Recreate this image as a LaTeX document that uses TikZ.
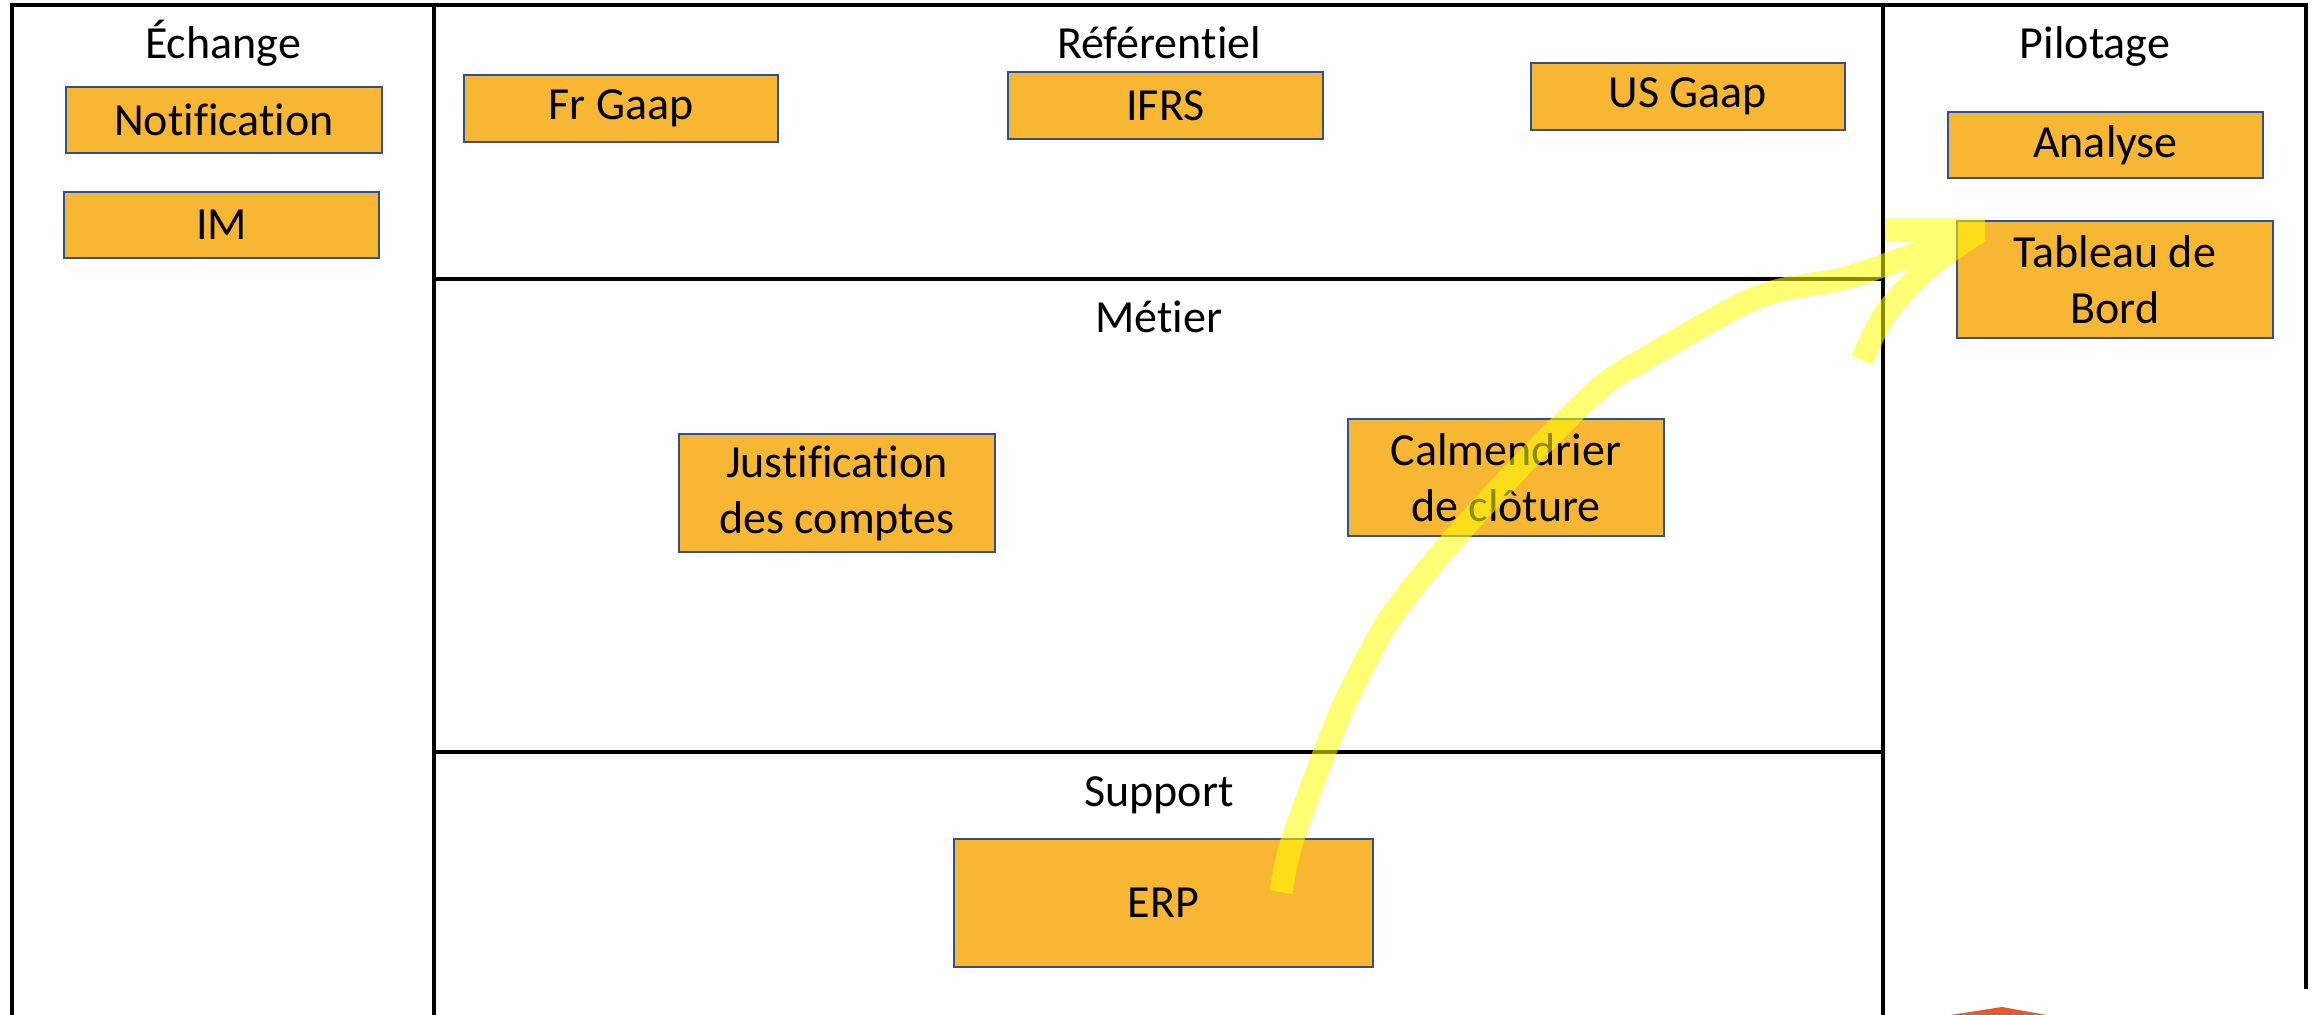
\documentclass[tikz,border=0pt]{standalone}
\usepackage{fontspec}
\setmainfont[Ligatures={NoCommon}]{Carlito}
\definecolor{boxfill}{RGB}{248,183,51}
\definecolor{boxline}{RGB}{47,82,143}
\definecolor{hl}{RGB}{255,255,0}
\definecolor{logo}{RGB}{232,88,42}
\begin{document}
\begin{tikzpicture}[x=0.5pt,y=-0.5pt,
  frame/.style={line width=2.1pt, black, line join=miter},
  box/.style={draw=boxline, line width=1.3pt, fill=boxfill, inner sep=0pt, align=center,
    font=\fontsize{23pt}{28pt}\selectfont, anchor=center},
  sz/.style 2 args={minimum width=#1*0.5pt, minimum height=#2*0.5pt},
  lane/.style={anchor=base, inner sep=0pt, font=\fontsize{23pt}{28pt}\selectfont},
  marker/.style={draw=hl, opacity=0.55, line width=11.5pt, line join=round, line cap=butt}]
\useasboundingbox (0,0) rectangle (2315,1015);

% frame
\draw[frame] (12,1015) -- (12,5) -- (2306,5) -- (2306,989);
\draw[frame] (434,5) -- (434,1015);
\draw[frame] (1883,5) -- (1883,1015);
\draw[frame] (434,279) -- (1883,279);
\draw[frame] (434,752) -- (1883,752);

% lane titles
\node[lane] (tEch) at (223,59) {Échange};
\node[lane] (tRef) at (1159,59) {Référentiel};
\node[lane] (tPil) at (2095,59) {Pilotage};
\node[lane] (tMet) at (1159,333) {Métier};
\node[lane] (tSup) at (1159,806) {Support};

% boxes
\node[box, sz={316}{66}] (notif) at (224,120) {Notification};
\node[box, sz={315}{66}] (im) at (221.5,225) {IM};
\node[box, sz={314}{67}] (frgaap) at (621,108.5) {Fr Gaap};
\node[box, sz={315}{67}] (ifrs) at (1165.5,105.5) {IFRS};
\node[box, sz={314}{67}] (usgaap) at (1688,96.5) {US Gaap};
\node[box, sz={315}{66}] (analyse) at (2105.5,145) {Analyse};
\node[box, sz={316}{117}] (tableau) at (2115,279.5) {Tableau de\\Bord};
\node[box, sz={316}{118}] (justif) at (837,493) {Justification\\des comptes};
\node[box, sz={316}{117}] (calm) at (1506,477.5) {Calmendrier\\de clôture};
\node[box, sz={419}{128}] (erp) at (1163.5,903) {ERP};

% partial logo at the bottom edge
\fill[logo] (1950,1015) -- (2002,1007) -- (2047,1015) -- cycle;

% highlighter annotation
\coordinate (hlstart) at (1281,892);
\coordinate (hltip) at (1978,232);
\draw[marker]
  plot[smooth, tension=0.55] coordinates {(hlstart) (1290,848) (1307,799) (1329,741) (1347,698)
     (1379,636) (1398,607) (1432,564) (1477,513) (1539,447) (1602,386) (1646,358)
     (1736,307) (1780,290) (1845,278) (1910,256) (hltip)}
  (1885,230) -- (1985,230)
  plot[smooth, tension=0.5] coordinates {(hltip) (1925,270) (1885,314) (1862,360)};
\end{tikzpicture}
\end{document}
